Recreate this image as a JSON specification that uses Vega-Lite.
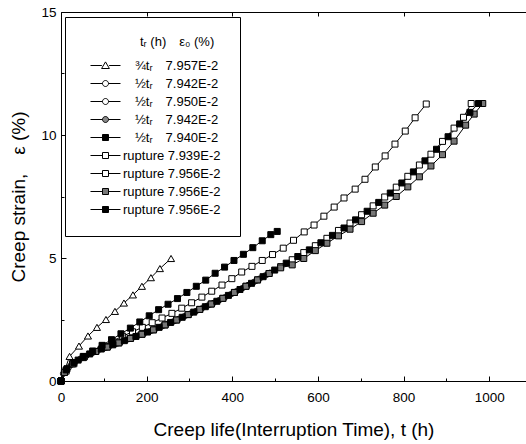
{
  "$schema": "https://vega.github.io/schema/vega-lite/v6.json",
  "autosize": "none",
  "width": 465,
  "height": 369,
  "padding": {"left": 61, "top": 12, "right": 0, "bottom": 63},
  "background": "white",
  "config": {
    "view": {"stroke": null},
    "font": "Liberation Sans",
    "axis": {
      "grid": false,
      "domainColor": "black",
      "tickColor": "black",
      "labelColor": "black",
      "titleColor": "black",
      "labelFont": "Liberation Sans",
      "titleFont": "Liberation Sans",
      "labelFontSize": 13.5,
      "titleFontWeight": "normal",
      "titleFontSize": 19,
      "labelFlush": false,
      "domainWidth": 1,
      "tickWidth": 1
    },
    "legend": {
      "labelFont": "Liberation Sans",
      "titleFont": "Liberation Sans",
      "strokeColor": "black",
      "padding": 19,
      "fillColor": "white"
    }
  },
  "data": {"values": [
    {"s":1,"t":0,"e":0},{"s":1,"t":20,"e":1.0},{"s":1,"t":42,"e":1.42},{"s":1,"t":63,"e":1.83},{"s":1,"t":84,"e":2.18},{"s":1,"t":105,"e":2.5},{"s":1,"t":126,"e":2.83},{"s":1,"t":147,"e":3.17},{"s":1,"t":168,"e":3.5},{"s":1,"t":189,"e":3.85},{"s":1,"t":210,"e":4.2},{"s":1,"t":231,"e":4.57},{"s":1,"t":257,"e":4.98},
    {"s":2,"t":0,"e":0},{"s":2,"t":18,"e":0.55},{"s":2,"t":45,"e":0.9},{"s":2,"t":72,"e":1.13},{"s":2,"t":99,"e":1.32},{"s":2,"t":126,"e":1.5},{"s":2,"t":153,"e":1.67},{"s":2,"t":180,"e":1.85},{"s":2,"t":207,"e":2.02},{"s":2,"t":234,"e":2.21},{"s":2,"t":261,"e":2.41},{"s":2,"t":288,"e":2.63},{"s":2,"t":315,"e":2.84},{"s":2,"t":342,"e":3.06},{"s":2,"t":369,"e":3.28},{"s":2,"t":396,"e":3.52},{"s":2,"t":423,"e":3.77},{"s":2,"t":450,"e":4.02},{"s":2,"t":477,"e":4.29},
    {"s":3,"t":0,"e":0},{"s":3,"t":5,"e":0.3},{"s":3,"t":32,"e":0.75},{"s":3,"t":59,"e":1.02},{"s":3,"t":86,"e":1.23},{"s":3,"t":113,"e":1.41},{"s":3,"t":140,"e":1.58},{"s":3,"t":167,"e":1.76},{"s":3,"t":194,"e":1.93},{"s":3,"t":221,"e":2.12},{"s":3,"t":248,"e":2.32},{"s":3,"t":275,"e":2.52},{"s":3,"t":302,"e":2.74},{"s":3,"t":329,"e":2.95},{"s":3,"t":356,"e":3.17},{"s":3,"t":383,"e":3.4},{"s":3,"t":410,"e":3.65},{"s":3,"t":437,"e":3.9},{"s":3,"t":464,"e":4.16},{"s":3,"t":488,"e":4.4},
    {"s":4,"t":0,"e":0},{"s":4,"t":24,"e":0.66},{"s":4,"t":51,"e":0.95},{"s":4,"t":78,"e":1.18},{"s":4,"t":105,"e":1.36},{"s":4,"t":132,"e":1.53},{"s":4,"t":159,"e":1.71},{"s":4,"t":186,"e":1.88},{"s":4,"t":213,"e":2.06},{"s":4,"t":240,"e":2.26},{"s":4,"t":267,"e":2.46},{"s":4,"t":294,"e":2.68},{"s":4,"t":321,"e":2.89},{"s":4,"t":348,"e":3.11},{"s":4,"t":375,"e":3.34},{"s":4,"t":402,"e":3.57},{"s":4,"t":429,"e":3.82},{"s":4,"t":456,"e":4.08},{"s":4,"t":483,"e":4.34},
    {"s":5,"t":0,"e":0},{"s":5,"t":12,"e":0.45},{"s":5,"t":30,"e":0.75},{"s":5,"t":52,"e":1.0},{"s":5,"t":74,"e":1.22},{"s":5,"t":96,"e":1.45},{"s":5,"t":118,"e":1.68},{"s":5,"t":140,"e":1.92},{"s":5,"t":162,"e":2.15},{"s":5,"t":184,"e":2.4},{"s":5,"t":206,"e":2.65},{"s":5,"t":228,"e":2.9},{"s":5,"t":250,"e":3.12},{"s":5,"t":272,"e":3.35},{"s":5,"t":294,"e":3.6},{"s":5,"t":316,"e":3.85},{"s":5,"t":338,"e":4.1},{"s":5,"t":360,"e":4.38},{"s":5,"t":382,"e":4.63},{"s":5,"t":404,"e":4.9},{"s":5,"t":426,"e":5.15},{"s":5,"t":448,"e":5.42},{"s":5,"t":470,"e":5.7},{"s":5,"t":490,"e":5.95},{"s":5,"t":505,"e":6.08},
    {"s":6,"t":0,"e":0},{"s":6,"t":12,"e":0.4},{"s":6,"t":30,"e":0.7},{"s":6,"t":52,"e":0.95},{"s":6,"t":75,"e":1.2},{"s":6,"t":98,"e":1.42},{"s":6,"t":121,"e":1.63},{"s":6,"t":144,"e":1.82},{"s":6,"t":167,"e":2.0},{"s":6,"t":190,"e":2.18},{"s":6,"t":213,"e":2.37},{"s":6,"t":236,"e":2.56},{"s":6,"t":259,"e":2.75},{"s":6,"t":282,"e":2.96},{"s":6,"t":305,"e":3.18},{"s":6,"t":329,"e":3.41},{"s":6,"t":352,"e":3.65},{"s":6,"t":376,"e":3.9},{"s":6,"t":399,"e":4.16},{"s":6,"t":422,"e":4.43},{"s":6,"t":446,"e":4.66},{"s":6,"t":470,"e":4.9},{"s":6,"t":494,"e":5.14},{"s":6,"t":519,"e":5.4},{"s":6,"t":543,"e":5.72},{"s":6,"t":568,"e":6.06},{"s":6,"t":591,"e":6.34},{"s":6,"t":614,"e":6.7},{"s":6,"t":638,"e":7.07},{"s":6,"t":661,"e":7.44},{"s":6,"t":687,"e":7.8},{"s":6,"t":710,"e":8.2},{"s":6,"t":734,"e":8.7},{"s":6,"t":757,"e":9.15},{"s":6,"t":780,"e":9.63},{"s":6,"t":804,"e":10.16},{"s":6,"t":827,"e":10.7},{"s":6,"t":853,"e":11.26},
    {"s":7,"t":0,"e":0},{"s":7,"t":8,"e":0.35},{"s":7,"t":27,"e":0.7},{"s":7,"t":54,"e":0.98},{"s":7,"t":81,"e":1.2},{"s":7,"t":108,"e":1.38},{"s":7,"t":135,"e":1.55},{"s":7,"t":162,"e":1.73},{"s":7,"t":189,"e":1.9},{"s":7,"t":216,"e":2.08},{"s":7,"t":243,"e":2.28},{"s":7,"t":270,"e":2.48},{"s":7,"t":297,"e":2.7},{"s":7,"t":324,"e":2.91},{"s":7,"t":351,"e":3.13},{"s":7,"t":378,"e":3.36},{"s":7,"t":405,"e":3.6},{"s":7,"t":432,"e":3.85},{"s":7,"t":459,"e":4.11},{"s":7,"t":486,"e":4.37},{"s":7,"t":513,"e":4.65},{"s":7,"t":540,"e":4.93},{"s":7,"t":567,"e":5.22},{"s":7,"t":594,"e":5.5},{"s":7,"t":621,"e":5.8},{"s":7,"t":648,"e":6.12},{"s":7,"t":675,"e":6.42},{"s":7,"t":702,"e":6.76},{"s":7,"t":729,"e":7.12},{"s":7,"t":756,"e":7.48},{"s":7,"t":783,"e":7.88},{"s":7,"t":810,"e":8.32},{"s":7,"t":837,"e":8.78},{"s":7,"t":864,"e":9.22},{"s":7,"t":891,"e":9.74},{"s":7,"t":918,"e":10.28},{"s":7,"t":940,"e":10.72},{"s":7,"t":958,"e":11.28},
    {"s":8,"t":0,"e":0},{"s":8,"t":8,"e":0.35},{"s":8,"t":27,"e":0.7},{"s":8,"t":54,"e":0.98},{"s":8,"t":81,"e":1.2},{"s":8,"t":108,"e":1.38},{"s":8,"t":135,"e":1.55},{"s":8,"t":162,"e":1.73},{"s":8,"t":189,"e":1.9},{"s":8,"t":216,"e":2.08},{"s":8,"t":243,"e":2.28},{"s":8,"t":270,"e":2.48},{"s":8,"t":297,"e":2.7},{"s":8,"t":324,"e":2.91},{"s":8,"t":351,"e":3.13},{"s":8,"t":378,"e":3.36},{"s":8,"t":405,"e":3.6},{"s":8,"t":432,"e":3.85},{"s":8,"t":459,"e":4.11},{"s":8,"t":486,"e":4.37},{"s":8,"t":513,"e":4.6},{"s":8,"t":540,"e":4.72},{"s":8,"t":567,"e":4.98},{"s":8,"t":594,"e":5.3},{"s":8,"t":621,"e":5.6},{"s":8,"t":648,"e":5.9},{"s":8,"t":675,"e":6.17},{"s":8,"t":702,"e":6.48},{"s":8,"t":729,"e":6.82},{"s":8,"t":756,"e":7.15},{"s":8,"t":783,"e":7.5},{"s":8,"t":810,"e":7.89},{"s":8,"t":837,"e":8.3},{"s":8,"t":864,"e":8.74},{"s":8,"t":891,"e":9.2},{"s":8,"t":918,"e":9.75},{"s":8,"t":945,"e":10.4},{"s":8,"t":965,"e":10.85},{"s":8,"t":985,"e":11.28},
    {"s":9,"t":0,"e":0},{"s":9,"t":14,"e":0.5},{"s":9,"t":40,"e":0.85},{"s":9,"t":67,"e":1.1},{"s":9,"t":94,"e":1.3},{"s":9,"t":121,"e":1.47},{"s":9,"t":148,"e":1.64},{"s":9,"t":175,"e":1.81},{"s":9,"t":202,"e":1.99},{"s":9,"t":229,"e":2.18},{"s":9,"t":256,"e":2.38},{"s":9,"t":283,"e":2.59},{"s":9,"t":310,"e":2.8},{"s":9,"t":337,"e":3.02},{"s":9,"t":364,"e":3.24},{"s":9,"t":391,"e":3.48},{"s":9,"t":418,"e":3.72},{"s":9,"t":445,"e":3.97},{"s":9,"t":472,"e":4.24},{"s":9,"t":499,"e":4.51},{"s":9,"t":526,"e":4.79},{"s":9,"t":553,"e":5.06},{"s":9,"t":580,"e":5.33},{"s":9,"t":607,"e":5.62},{"s":9,"t":634,"e":5.92},{"s":9,"t":661,"e":6.22},{"s":9,"t":688,"e":6.55},{"s":9,"t":715,"e":6.9},{"s":9,"t":742,"e":7.26},{"s":9,"t":769,"e":7.64},{"s":9,"t":796,"e":8.05},{"s":9,"t":823,"e":8.5},{"s":9,"t":850,"e":8.95},{"s":9,"t":877,"e":9.42},{"s":9,"t":904,"e":9.93},{"s":9,"t":931,"e":10.45},{"s":9,"t":955,"e":10.92},{"s":9,"t":975,"e":11.28}
  ]},
  "resolve": {"axis": {"x": "independent", "y": "independent"}},
  "layer": [
    {
      "mark": {"type": "line", "color": "black", "strokeWidth": 1},
      "encoding": {
        "x": {"field": "t", "type": "quantitative", "scale": {"domain": [0, 1086], "nice": false, "zero": false},
              "axis": {"orient": "bottom", "values": [0,200,400,600,800,1000], "format": "d", "tickSize": -5, "labelPadding": 14, "title": "Creep life(Interruption Time),  t (h)", "titlePadding": 17}},
        "y": {"field": "e", "type": "quantitative", "scale": {"domain": [0, 15], "nice": false},
              "axis": {"orient": "left", "values": [0,5,10,15], "tickSize": -5, "labelPadding": 10, "title": "Creep strain,\u2003ε (%)", "titleFontSize": 19, "titlePadding": 12}},
        "detail": {"field": "s", "type": "nominal"},
        "order": {"field": "t", "type": "quantitative"}
      }
    },
    {
      "transform": [{"filter": "datum.s == 1"}],
      "mark": {"type": "point", "shape": "triangle-up", "filled": true, "fill": "white", "stroke": "black", "strokeWidth": 1, "size": 50, "opacity": 1},
      "encoding": {
        "x": {"field": "t", "type": "quantitative", "scale": {"domain": [0, 1086], "nice": false, "zero": false},
              "axis": {"orient": "bottom", "values": [100,300,500,700,900], "tickSize": -3, "labels": false, "domain": false, "title": null}},
        "y": {"field": "e", "type": "quantitative", "scale": {"domain": [0, 15], "nice": false},
              "axis": {"orient": "left", "values": [2.5,7.5,12.5], "tickSize": -3, "labels": false, "domain": false, "title": null}}
      }
    },
    {
      "transform": [{"filter": "datum.s == 2 || datum.s == 3"}],
      "mark": {"type": "point", "shape": "circle", "filled": true, "fill": "white", "stroke": "black", "strokeWidth": 1, "size": 30, "opacity": 1},
      "encoding": {
        "x": {"field": "t", "type": "quantitative", "scale": {"domain": [0, 1086], "nice": false, "zero": false},
              "axis": {"orient": "top", "values": [0,200,400,600,800,1000], "tickSize": -4, "labels": false, "title": null}},
        "y": {"field": "e", "type": "quantitative", "scale": {"domain": [0, 15], "nice": false}, "axis": null}
      }
    },
    {
      "transform": [{"filter": "datum.s == 4"}],
      "mark": {"type": "point", "shape": "circle", "filled": true, "fill": "#888888", "stroke": "black", "strokeWidth": 1, "size": 30, "opacity": 1},
      "encoding": {
        "x": {"field": "t", "type": "quantitative", "scale": {"domain": [0, 1086], "nice": false, "zero": false}, "axis": null},
        "y": {"field": "e", "type": "quantitative", "scale": {"domain": [0, 15], "nice": false}, "axis": null}
      }
    },
    {
      "transform": [{"filter": "datum.s == 6 || datum.s == 7"}],
      "mark": {"type": "point", "shape": "square", "filled": true, "fill": "white", "stroke": "black", "strokeWidth": 1, "size": 36, "opacity": 1},
      "encoding": {
        "x": {"field": "t", "type": "quantitative", "scale": {"domain": [0, 1086], "nice": false, "zero": false}, "axis": null},
        "y": {"field": "e", "type": "quantitative", "scale": {"domain": [0, 15], "nice": false}, "axis": null}
      }
    },
    {
      "transform": [{"filter": "datum.s == 8"}],
      "mark": {"type": "point", "shape": "square", "filled": true, "fill": "#777777", "stroke": "black", "strokeWidth": 1, "size": 36, "opacity": 1},
      "encoding": {
        "x": {"field": "t", "type": "quantitative", "scale": {"domain": [0, 1086], "nice": false, "zero": false}, "axis": null},
        "y": {"field": "e", "type": "quantitative", "scale": {"domain": [0, 15], "nice": false}, "axis": null}
      }
    },
    {
      "transform": [{"filter": "datum.s == 5 || datum.s == 9"}],
      "mark": {"type": "point", "shape": "square", "filled": true, "fill": "black", "stroke": "black", "strokeWidth": 1, "size": 36, "opacity": 1},
      "encoding": {
        "x": {"field": "t", "type": "quantitative", "scale": {"domain": [0, 1086], "nice": false, "zero": false}, "axis": null},
        "y": {"field": "e", "type": "quantitative", "scale": {"domain": [0, 15], "nice": false}, "axis": null}
      }
    },
    {
      "mark": {"type": "point", "filled": true, "stroke": "black", "strokeWidth": 1, "size": 36, "opacity": 0},
      "encoding": {
        "x": {"field": "t", "type": "quantitative", "scale": {"domain": [0, 1086], "nice": false, "zero": false}, "axis": null},
        "y": {"field": "e", "type": "quantitative", "scale": {"domain": [0, 15], "nice": false}, "axis": null},
        "shape": {"field": "s", "type": "nominal",
          "scale": {"domain": [1,2,3,4,5,6,7,8,9], "range": [
            "M-5,0H-1.2M1.2,0H5M0,-1.2L1.3,1H-1.3Z",
            "M-5,0H-1M1,0H5M1,0A1,1,0,1,1,-1,0A1,1,0,1,1,1,0Z",
            "M-5,0H-1M1,0H5M1,0A1,1,0,1,1,-1,0A1,1,0,1,1,1,0Z",
            "M-5,0H-1M1,0H5M1,0A1,1,0,1,1,-1,0A1,1,0,1,1,1,0Z",
            "M-5,0H-1M1,0H5M-1,-1H1V1H-1Z",
            "M-5,0H-1M1,0H5M-1,-1H1V1H-1Z",
            "M-5,0H-1M1,0H5M-1,-1H1V1H-1Z",
            "M-5,0H-1M1,0H5M-1,-1H1V1H-1Z",
            "M-5,0H-1M1,0H5M-1,-1H1V1H-1Z"]},
          "legend": {
            "orient": "none", "legendX": 4, "legendY": 5,
            "title": "tᵣ (h)\u2002\u2002ε₀ (%)",
            "titleFontSize": 13, "titleFontWeight": "normal", "titleColor": "black", "titlePadding": 10,
            "labelFontSize": 13, "labelColor": "black",
            "strokeColor": "black", "padding": 19, "fillColor": "white",
            "symbolSize": 36, "symbolOffset": 15, "labelOffset": 11, "rowPadding": 4,
            "symbolOpacity": 1, "symbolStrokeColor": "black", "symbolStrokeWidth": 1,
            "labelExpr": "['¾tᵣ\u2002\u20027.957E-2','½tᵣ\u2002\u20027.942E-2','½tᵣ\u2002\u20027.950E-2','½tᵣ\u2002\u20027.942E-2','½tᵣ\u2002\u20027.940E-2','rupture 7.939E-2','rupture 7.956E-2','rupture 7.956E-2','rupture 7.956E-2'][datum.value - 1]",
            "encode": {
              "symbols": {"update": {"stroke": {"value": "black"}, "strokeWidth": {"value": 1}, "opacity": {"value": 1}}},
              "labels": {"update": {"dx": {"signal": "datum.value <= 5 ? 12 : 0"}}},
              "title": {"update": {"dx": {"value": 56}}},
              "legend": {"update": {"stroke": {"value": "black"}, "strokeWidth": {"value": 1}, "fill": {"value": "white"}}}
            }
          }},
        "fill": {"field": "s", "type": "nominal",
          "scale": {"domain": [1,2,3,4,5,6,7,8,9], "range": ["white","white","white","#888888","black","white","white","#777777","black"]},
          "legend": {
            "orient": "none", "legendX": 4, "legendY": 5,
            "title": "tᵣ (h)\u2002\u2002ε₀ (%)",
            "titleFontSize": 13, "titleFontWeight": "normal", "titleColor": "black", "titlePadding": 10,
            "labelFontSize": 13, "labelColor": "black",
            "strokeColor": "black", "padding": 19, "fillColor": "white",
            "symbolSize": 36, "symbolOffset": 15, "labelOffset": 11, "rowPadding": 4,
            "symbolOpacity": 1, "symbolStrokeColor": "black", "symbolStrokeWidth": 1,
            "labelExpr": "['¾tᵣ\u2002\u20027.957E-2','½tᵣ\u2002\u20027.942E-2','½tᵣ\u2002\u20027.950E-2','½tᵣ\u2002\u20027.942E-2','½tᵣ\u2002\u20027.940E-2','rupture 7.939E-2','rupture 7.956E-2','rupture 7.956E-2','rupture 7.956E-2'][datum.value - 1]",
            "encode": {
              "symbols": {"update": {"stroke": {"value": "black"}, "strokeWidth": {"value": 1}, "opacity": {"value": 1}}},
              "labels": {"update": {"dx": {"signal": "datum.value <= 5 ? 12 : 0"}}},
              "title": {"update": {"dx": {"value": 56}}},
              "legend": {"update": {"stroke": {"value": "black"}, "strokeWidth": {"value": 1}, "fill": {"value": "white"}}}
            }
          }}
      }
    }
  ]
}
